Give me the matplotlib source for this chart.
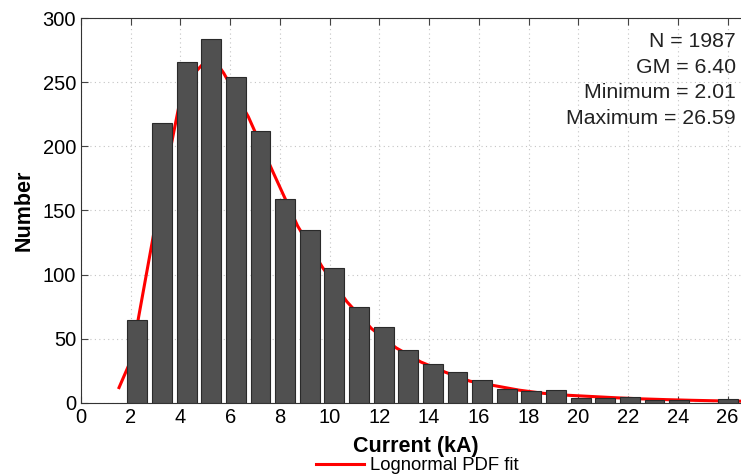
import matplotlib
matplotlib.use("Agg")
import matplotlib.pyplot as plt

plt.rcParams["font.family"] = ["Liberation Sans", "DejaVu Sans"]

# Histogram bins (kA) and their counts
bin_start = 2.27
bin_step = 0.99
counts = [65, 218, 266, 284, 254, 212, 159, 135, 105, 75, 59, 41, 30,
          24, 18, 11, 9, 10, 4, 4, 5, 2, 2, 0, 3]

# Lognormal fit curve, read point by point
fit_x = [1.53, 2.0, 3.0, 3.76, 4.1, 4.75, 5.24, 5.74, 6.73, 7.72, 8.71,
         9.70, 10.69, 11.68, 12.67, 13.66, 14.65, 15.64, 16.63, 17.62,
         18.61, 19.60, 20.59, 21.58, 22.57, 23.56, 24.55, 25.54, 26.55]
fit_y = [12, 33, 140, 214, 247, 261, 271, 257, 223, 180, 138, 106, 79, 58,
         43, 32, 24, 17, 13.5, 10, 7.5, 6, 5, 4, 3.2, 2.6, 2.1, 1.7, 1.4]

stats = ["N = 1987", "GM = 6.40", "Minimum = 2.01", "Maximum = 26.59"]

centers = [bin_start + i * bin_step for i in range(len(counts))]

fig = plt.figure(figsize=(7.41, 4.75), dpi=100)
ax = fig.add_axes([0.1093, 0.1516, 0.8907, 0.8105])

ax.bar(centers, counts, width=0.8, color="#505050", edgecolor="#2a2a2a",
       linewidth=0.8, zorder=3)
line, = ax.plot(fit_x, fit_y, color="red", linewidth=2.2, zorder=2,
                label="Lognormal PDF fit")

ax.set_xlim(0, 26.54)
ax.set_ylim(0, 300)
ax.set_xticks(range(0, 27, 2))
ax.set_yticks(range(0, 301, 50))
ax.tick_params(direction="in", labelsize=14.5, top=True, right=False,
               length=5, color="#444444")
ax.grid(True, linestyle=(0, (1, 3)), color="#c4c4c4", linewidth=0.8, zorder=0)
ax.spines["right"].set_visible(False)
for s in ["top", "left", "bottom"]:
    ax.spines[s].set_color("#333333")

ax.set_xlabel("Current (kA)", fontsize=15.5, fontweight="bold")
ax.xaxis.set_label_coords(0.507, -0.086, transform=ax.transAxes)
ax.xaxis.label.set_va("top")
ax.set_ylabel("Number", fontsize=15.5, fontweight="bold", labelpad=6)

ax.text(0.992, 0.964, "\n".join(stats), transform=ax.transAxes,
        ha="right", va="top", fontsize=15.3, color="#222222", linespacing=1.45)

fig.legend(handles=[line], loc="center", bbox_to_anchor=(0.563, 0.019),
           frameon=False, fontsize=13.3, handlelength=2.6, handletextpad=0.3)

fig.savefig("out.png", dpi=100)
